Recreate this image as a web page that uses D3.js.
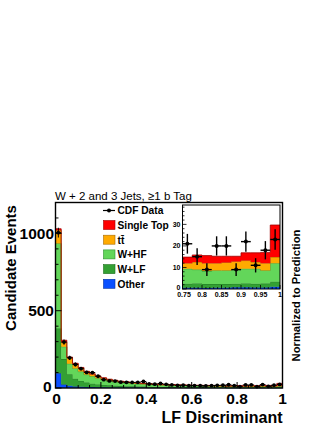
<!DOCTYPE html>
<html><head><meta charset="utf-8">
<script src="https://cdn.jsdelivr.net/npm/d3@7"></script>
<style>
body{margin:0;background:#fff}
svg{display:block}
text{font-family:"Liberation Sans",Arial,Helvetica,sans-serif;fill:#000}
</style>
</head><body>
<svg id="c" width="332" height="430"></svg>
<script>
// ---- data (40 bins of width 0.025 on LF discriminant 0..1) ----
const binWidth = 0.025;
const nBins = 40;
const other     = [95,22,14,10,8,7,6,5,5,4,4,3,3,3,3,3,2,2,2,2,2,2,2,1.5,1.5,1.5,1.5,1.5,1.5,1.5,0.6,0.6,0.5,0.6,0.6,0.8,0.8,0.7,0.7,1.0];
const wlf       = [290,165,75,50,38,28,22,18,15,13,11,10,9,8,7,6,6,5,5,4.5,4,4,3.5,3.5,3,3,3,2.5,2.5,2.5,1.8,2.0,1.8,1.7,1.7,1.6,1.8,1.7,1.8,2.4];
const whf       = [550,80,68,66,60,52,47.5,40.5,33.5,29,25,22,20,17.5,16,15,13.5,13,11,10.5,10.5,9.5,9,8.5,8,8,7,7.5,6.5,6.5,7.0,6.4,6.0,6.3,6.3,6.7,6.8,7.0,6.1,8.6];
const ttbar     = [85,30,38,30,24,18,14,12,10,9,8,7,6,5.5,5,5,4.5,4,4,4,3.5,3.5,3.5,3.5,3.5,3.5,3.5,3.5,3.5,3.5,2.6,3.5,3.7,3.4,3.7,3.7,3.8,3.1,3.4,2.8];
const singleTop = [10,12,5,4,3,3,2.5,2.5,2.5,2,2,2,2,2,2,2,2,2,2,2,2,2,2,2,2,2,2,2,2,2,2.8,3.3,3.5,3.2,2.9,2.4,3.6,4.3,5.0,14.9];
const cdfData   = [1005,297,195,152,125,101,100,76,54,46,45,38,37,36,37,42,26,25,29,24,20,17,18,15,16,15,14,15,17,18,21,15,9,20,20,9,22,11,18,23];

const seriesKeys   = ["other","wlf","whf","ttbar","singleTop"];
const legendLabels = ["Single Top","tt\u0304","W+HF","W+LF","Other"];
const legendKeys   = ["singleTop","ttbar","whf","wlf","other"];
const mainXTicks = [0,0.2,0.4,0.6,0.8,1];
const mainYTicks = [0,500,1000];
const insetXTicks = [0.75,0.8,0.85,0.9,0.95,1];
const insetYTicks = [0,10,20,30];
const titleText = "W + 2 and 3 Jets, \u22651 b Tag";

const fills   = {other:"#0a50ff", wlf:"#33a033", whf:"#63d65a", ttbar:"#ffaa00", singleTop:"#ff0000"};
const strokes = {other:"#0030a0", wlf:"#1d6e1d", whf:"#2f8f2f", ttbar:"#a86a00", singleTop:"#a00000"};

// ---- table ----
const rows = d3.range(nBins).map(i => ({
  x0: i*binWidth, other: other[i], wlf: wlf[i], whf: whf[i], ttbar: ttbar[i], singleTop: singleTop[i], data: cdfData[i]
}));
const stacked = d3.stack().keys(seriesKeys)(rows);

const svg = d3.select("#c");

// ---- main plot ----
const M = {l:55.5, r:282.5, t:202.5, b:388};
const x = d3.scaleLinear().domain([0,1]).range([M.l, M.r]);
const y = d3.scaleLinear().domain([0,1200]).range([M.b, M.t]);

function drawStack(g, xs, ys, layers, filterFn){
  layers.forEach(layer => {
    let pts = layer.map((d,i)=>({x0: rows[i].x0, y0:d[0], y1:d[1]})).filter(filterFn);
    const last = pts[pts.length-1];
    pts = pts.concat([{x0: last.x0+binWidth, y0:last.y0, y1:last.y1}]);
    const area = d3.area().curve(d3.curveStepAfter)
      .x(d=>xs(d.x0)).y0(d=>ys(d.y0)).y1(d=>ys(d.y1));
    g.append("path").attr("d", area(pts)).attr("fill", fills[layer.key]).attr("stroke","none");
    const line = d3.line().curve(d3.curveStepAfter).x(d=>xs(d.x0)).y(d=>ys(d.y1));
    g.append("path").attr("d", line(pts)).attr("fill","none")
      .attr("stroke", strokes[layer.key]).attr("stroke-width",0.8);
  });
}

const gMain = svg.append("g");
drawStack(gMain, x, y, stacked, d=>true);

// data points main
const gData = svg.append("g");
rows.forEach(r => {
  const cx = x(r.x0 + binWidth/2), e = Math.sqrt(r.data);
  gData.append("line").attr("x1",cx).attr("x2",cx).attr("y1",y(r.data-e)).attr("y2",y(r.data+e))
    .attr("stroke","#000").attr("stroke-width",1);
  gData.append("line").attr("x1",x(r.x0)).attr("x2",x(r.x0+binWidth)).attr("y1",y(r.data)).attr("y2",y(r.data))
    .attr("stroke","#000").attr("stroke-width",1);
  gData.append("circle").attr("cx",cx).attr("cy",y(r.data)).attr("r",1.9).attr("fill","#000");
});

// frame & ticks
const gAx = svg.append("g");
gAx.append("rect").attr("x",M.l).attr("y",M.t).attr("width",M.r-M.l).attr("height",M.b-M.t)
  .attr("fill","none").attr("stroke","#000").attr("stroke-width",1.4);
d3.range(0,1201,100).forEach(v=>{
  const L = mainYTicks.includes(v) ? 6 : 3;
  gAx.append("line").attr("x1",M.l).attr("x2",M.l+L).attr("y1",y(v)).attr("y2",y(v)).attr("stroke","#000").attr("stroke-width",1);
});
d3.range(0,1.0001,0.05).forEach(v=>{
  const isMajor = mainXTicks.some(t=>Math.abs(t-v)<1e-6);
  const L = isMajor ? 6 : 3;
  gAx.append("line").attr("x1",x(v)).attr("x2",x(v)).attr("y1",M.b).attr("y2",M.b-L).attr("stroke","#000").attr("stroke-width",1);
});
mainYTicks.forEach(v=>{
  const dx = v===0 ? -2.5 : 0, dy = v===0 ? -2 : 0;
  gAx.append("text").attr("x",M.l-1.5+dx).attr("y",y(v)+5.5+dy).attr("text-anchor","end")
    .attr("font-size",15.5).attr("font-weight","bold").text(d3.format("d")(v));
});
mainXTicks.forEach(v=>{
  gAx.append("text").attr("x",x(v)+(v===0?1:0)).attr("y",403.5).attr("text-anchor","middle")
    .attr("font-size",15.5).attr("font-weight","bold").text(v===0||v===1? String(v) : d3.format(".1f")(v));
});

// axis titles
svg.append("text").attr("x",M.r).attr("y",423).attr("text-anchor","end")
  .attr("font-size",16).attr("font-weight","bold").text("LF Discriminant");
svg.append("text").attr("transform","translate(16,268) rotate(-90)").attr("text-anchor","middle")
  .attr("font-size",15).attr("font-weight","bold").text("Candidate Events");
svg.append("text").attr("transform","translate(299.5,295.5) rotate(-90)").attr("text-anchor","middle")
  .attr("font-size",11.2).attr("font-weight","bold").text("Normalized to Prediction");
svg.append("text").attr("x",55).attr("y",199.5).attr("font-size",11.5).text(titleText);

// ---- legend ----
const gLeg = svg.append("g");
gLeg.append("line").attr("x1",103).attr("x2",115).attr("y1",210.5).attr("y2",210.5).attr("stroke","#000").attr("stroke-width",1.2);
gLeg.append("circle").attr("cx",109).attr("cy",210.5).attr("r",2).attr("fill","#000");
gLeg.append("text").attr("x",117.5).attr("y",214.3).attr("font-size",10.2).attr("font-weight","bold").text("CDF Data");
legendKeys.forEach((k,i)=>{
  const cy = 225 + i*14.7;
  gLeg.append("rect").attr("x",103.5).attr("y",cy-4.5).attr("width",11.5).attr("height",9)
    .attr("fill",fills[k]).attr("stroke",strokes[k]).attr("stroke-width",0.6);
  gLeg.append("text").attr("x",117.5).attr("y",cy+3.8).attr("font-size",10.2).attr("font-weight","bold").text(legendLabels[i]);
});

// ---- inset ----
const I = {l:182.5, r:280, t:205, b:289};
const xi = d3.scaleLinear().domain([0.75,1]).range([I.l, I.r]);
const yi = d3.scaleLinear().domain([0,39]).range([I.b, I.t]);
const gIn = svg.append("g");
gIn.append("rect").attr("x",I.l).attr("y",I.t).attr("width",I.r-I.l).attr("height",I.b-I.t).attr("fill","#fff");
drawStack(gIn, xi, yi, stacked, d=>d.x0>=0.75-1e-9);
rows.filter(r=>r.x0>=0.75-1e-9).forEach(r=>{
  const cx = xi(r.x0+binWidth/2), e = Math.sqrt(r.data);
  gIn.append("line").attr("x1",cx).attr("x2",cx).attr("y1",yi(r.data-e)).attr("y2",yi(r.data+e))
    .attr("stroke","#000").attr("stroke-width",1.4);
  gIn.append("line").attr("x1",xi(r.x0)).attr("x2",xi(r.x0+binWidth)).attr("y1",yi(r.data)).attr("y2",yi(r.data))
    .attr("stroke","#000").attr("stroke-width",1.4);
  gIn.append("circle").attr("cx",cx).attr("cy",yi(r.data)).attr("r",2).attr("fill","#000");
});
gIn.append("rect").attr("x",I.l).attr("y",I.t).attr("width",I.r-I.l).attr("height",I.b-I.t)
  .attr("fill","none").attr("stroke","#000").attr("stroke-width",1);
d3.range(0,39,2).forEach(v=>{
  const L = insetYTicks.includes(v) ? 4 : 2;
  gIn.append("line").attr("x1",I.l).attr("x2",I.l+L).attr("y1",yi(v)).attr("y2",yi(v)).attr("stroke","#000").attr("stroke-width",0.8);
});
d3.range(0,26,1).forEach(i=>{
  const v = 0.75 + i*0.01;
  const L = (i%5===0) ? 4 : 2;
  gIn.append("line").attr("x1",xi(v)).attr("x2",xi(v)).attr("y1",I.b).attr("y2",I.b-L).attr("stroke","#000").attr("stroke-width",0.8);
});
insetYTicks.forEach(v=>{
  const dy = v===0 ? -1.5 : 0;
  gIn.append("text").attr("x",I.l-2).attr("y",yi(v)+2.5+dy).attr("text-anchor","end")
    .attr("font-size",7).attr("font-weight","bold").text(v);
});
insetXTicks.forEach(v=>{
  gIn.append("text").attr("x",xi(v)+(v===0.75?1.5:0)).attr("y",297).attr("text-anchor","middle")
    .attr("font-size",7).attr("font-weight","bold").text(String(v));
});
</script>
</body></html>
